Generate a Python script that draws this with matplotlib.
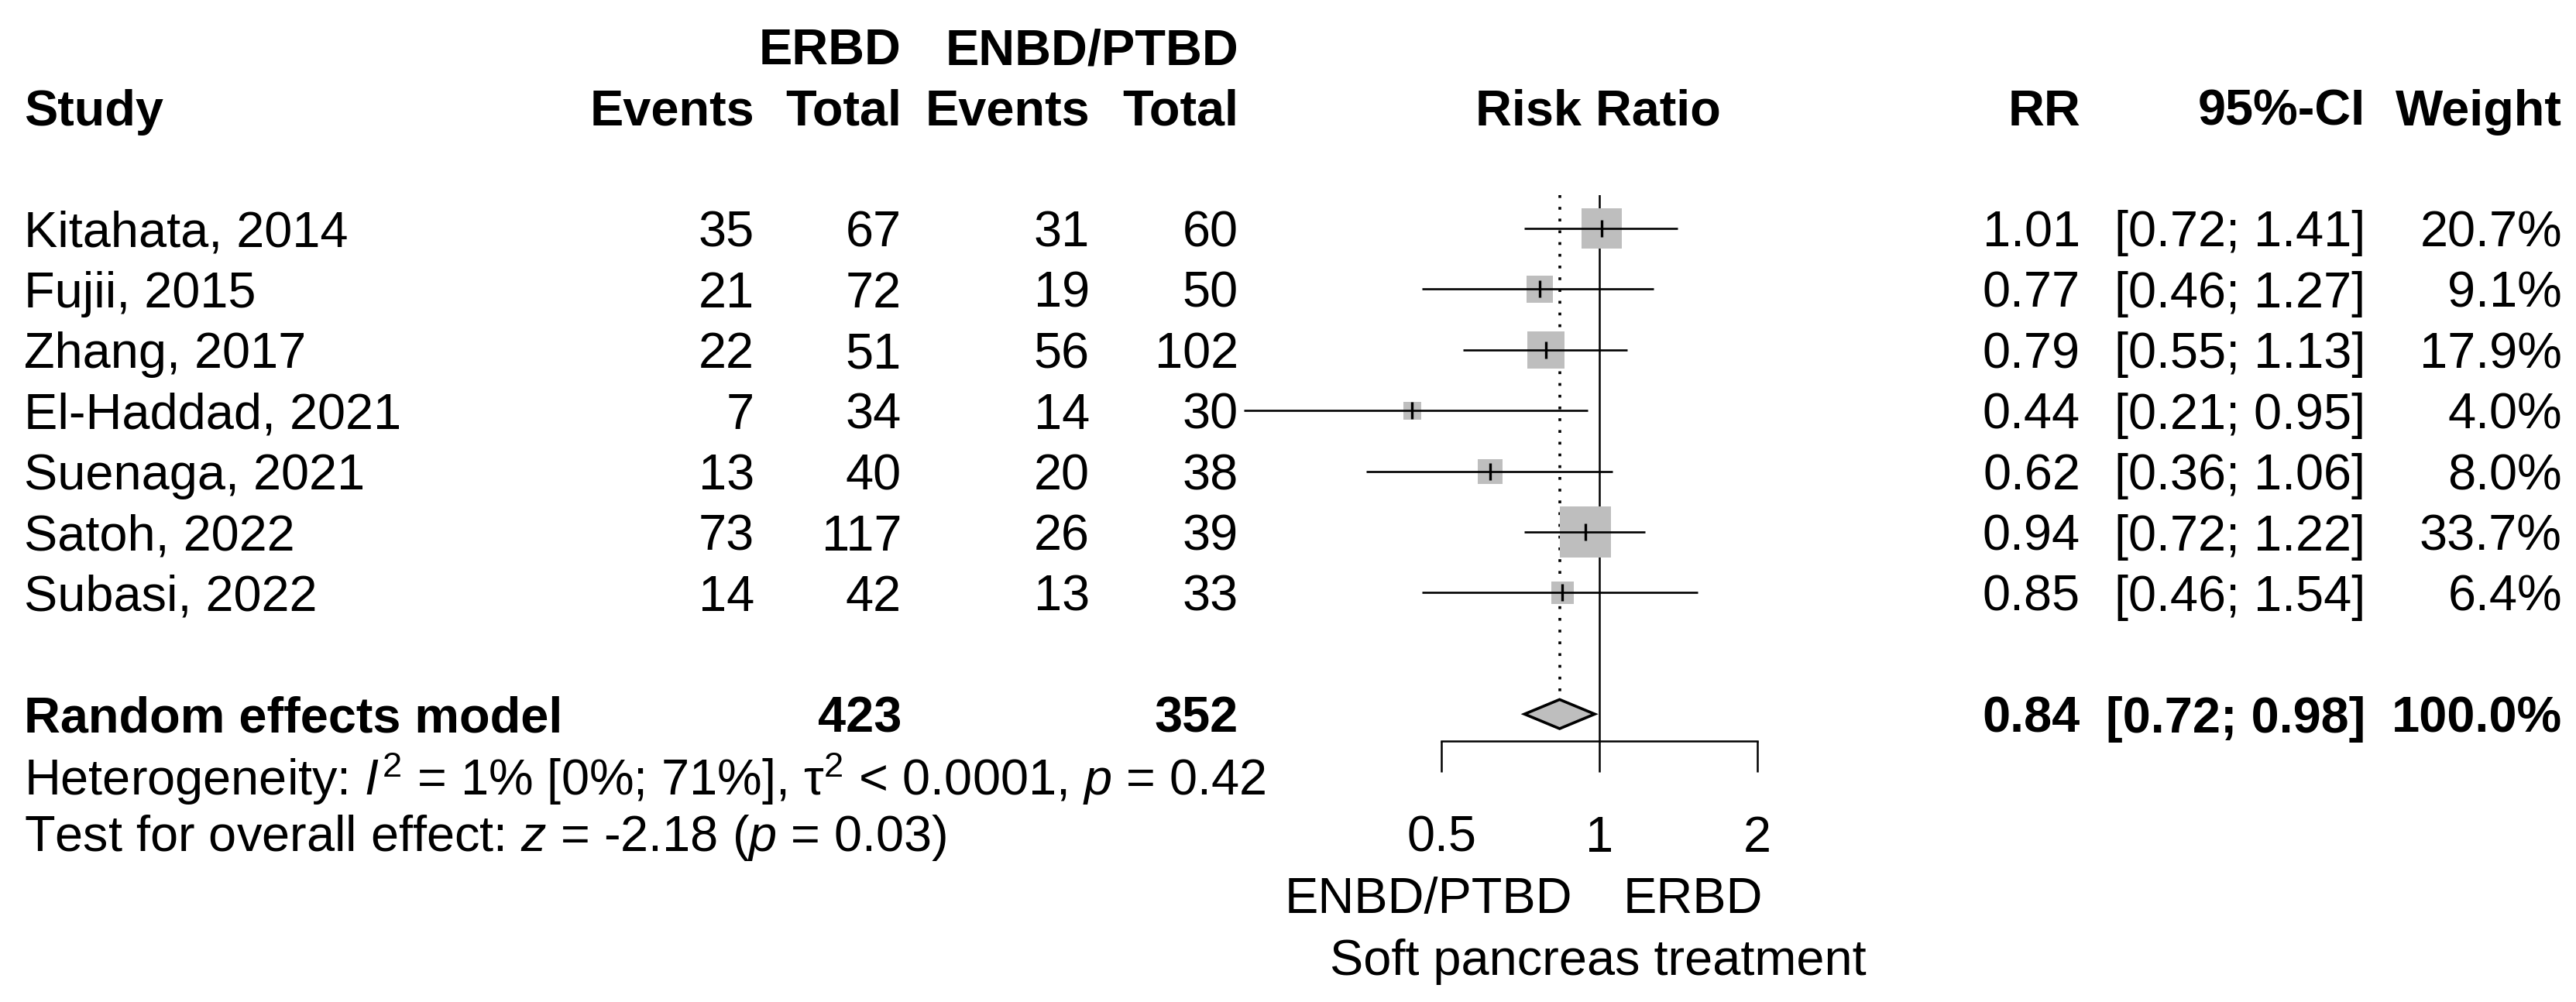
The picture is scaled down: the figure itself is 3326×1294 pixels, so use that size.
import numpy as np
import matplotlib.pyplot as plt
import matplotlib.transforms as mtransforms
from matplotlib.patches import Polygon
from matplotlib.ticker import NullLocator

plt.rcParams['font.family'] = 'Liberation Sans'
plt.rcParams['mathtext.fontset'] = 'custom'
plt.rcParams['mathtext.rm'] = 'Liberation Sans'
plt.rcParams['mathtext.it'] = 'Liberation Sans:italic'
plt.rcParams['mathtext.bf'] = 'Liberation Sans:bold'

# Study level data
studies = ['Kitahata, 2014', 'Fujii, 2015', 'Zhang, 2017', 'El-Haddad, 2021',
           'Suenaga, 2021', 'Satoh, 2022', 'Subasi, 2022']
erbd_events = [35, 21, 22, 7, 13, 73, 14]
erbd_total = [67, 72, 51, 34, 40, 117, 42]
enbd_events = [31, 19, 56, 14, 20, 26, 13]
enbd_total = [60, 50, 102, 30, 38, 39, 33]
rr = [1.01, 0.77, 0.79, 0.44, 0.62, 0.94, 0.85]
ci_lo = [0.72, 0.46, 0.55, 0.21, 0.36, 0.72, 0.46]
ci_hi = [1.41, 1.27, 1.13, 0.95, 1.06, 1.22, 1.54]
weight = [20.7, 9.1, 17.9, 4.0, 8.0, 33.7, 6.4]

# Pooled (random effects) result
pooled_rr = 0.84
pooled_lo = 0.72
pooled_hi = 0.98
pooled_erbd_total = 423
pooled_enbd_total = 352

ticks = [0.5, 1, 2]
tick_labels = ['0.5', '1', '2']

W, H = 3326, 1294
FS = 46.7
fig = plt.figure(figsize=(W / 100, H / 100), dpi=100)

# forest plot axes
ax = fig.add_axes([1500 / W, 1 - 957 / H, 1130 / W, 705 / H])
ax.set_xscale('log', base=2)
ax.set_xlim(2 ** -2.77, 2 ** 2.77)
ax.set_ylim(8.444, -0.548)
for side in ['top', 'left', 'right']:
    ax.spines[side].set_visible(False)
ax.spines['bottom'].set_bounds(0.5, 2)
ax.spines['bottom'].set_linewidth(1.8)
ax.set_xticks(ticks)
ax.set_xticklabels(tick_labels)
ax.xaxis.set_minor_locator(NullLocator())
ax.tick_params(axis='x', direction='out', length=28.8, width=1.8, pad=40, labelsize=FS)
ax.set_yticks([])
ax.patch.set_visible(False)

rows = np.arange(len(studies))
pooled_row = len(studies) + 1
dh = 0.24

# reference lines
ax.axvline(1, color='black', lw=1.8, zorder=1)
ax.vlines(pooled_rr, -0.548, pooled_row - dh, color='black', lw=2.6,
          linestyles=(0, (1, 3.2)), zorder=1)

# squares, CIs and point ticks
sizes = 2256 * np.array(weight) / max(weight)
ax.scatter(rr, rows, s=sizes, marker='s', color='#BEBEBE', linewidths=0, zorder=2)
ax.hlines(rows, ci_lo, ci_hi, color='black', lw=1.9, zorder=3)
ax.scatter(rr, rows, s=230, marker='|', color='black', linewidths=2.4, zorder=4)

# pooled diamond
diamond = Polygon([(pooled_lo, pooled_row), (pooled_rr, pooled_row - dh),
                   (pooled_hi, pooled_row), (pooled_rr, pooled_row + dh)],
                  closed=True, facecolor='#BEBEBE', edgecolor='black', lw=2.6, zorder=3)
ax.add_patch(diamond)

trans = mtransforms.blended_transform_factory(fig.transFigure, ax.transData)


def put(px, row, s, ha='right', bold=False):
    ax.text(px / W, row + 0.30, s, transform=trans, ha=ha, va='baseline',
            fontsize=FS, fontweight='bold' if bold else 'normal', clip_on=False)


# column positions (px)
x_study, x_e1, x_t1, x_e2, x_t2 = 31, 974, 1164, 1407, 1599
x_rr, x_ci, x_w = 2686, 3054, 3308

# headers
put(x_t1, -3, 'ERBD', bold=True)
put(x_t2, -3, 'ENBD/PTBD', bold=True)
put(x_study, -2, 'Study', ha='left', bold=True)
put(x_e1, -2, 'Events', bold=True)
put(x_t1, -2, 'Total', bold=True)
put(x_e2, -2, 'Events', bold=True)
put(x_t2, -2, 'Total', bold=True)
put(2063, -2, 'Risk Ratio', ha='center', bold=True)
put(x_rr, -2, 'RR', bold=True)
put(x_ci, -2, '95%-CI', bold=True)
put(x_w, -2, 'Weight', bold=True)

# study rows
for i in range(len(studies)):
    put(x_study, i, studies[i], ha='left')
    put(x_e1, i, str(erbd_events[i]))
    put(x_t1, i, str(erbd_total[i]))
    put(x_e2, i, str(enbd_events[i]))
    put(x_t2, i, str(enbd_total[i]))
    put(x_rr, i, f'{rr[i]:.2f}')
    put(x_ci, i, f'[{ci_lo[i]:.2f}; {ci_hi[i]:.2f}]')
    put(x_w, i, f'{weight[i]:.1f}%')

# pooled row
put(x_study, pooled_row, 'Random effects model', ha='left', bold=True)
put(x_t1, pooled_row, str(pooled_erbd_total), bold=True)
put(x_t2, pooled_row, str(pooled_enbd_total), bold=True)
put(x_rr, pooled_row, f'{pooled_rr:.2f}', bold=True)
put(x_ci, pooled_row, f'[{pooled_lo:.2f}; {pooled_hi:.2f}]', bold=True)
put(x_w, pooled_row, '100.0%', bold=True)

put(x_study, 9.04, r'Heterogeneity: $I^2$ = 1% [0%; 71%], $\mathrm{\tau}^2$ < 0.0001, $p$ = 0.42', ha='left')
put(x_study, 9.95, r'Test for overall effect: $z$ = -2.18 ($p$ = 0.03)', ha='left')

# bottom labels
put(2030, 10.97, 'ENBD/PTBD', ha='right')
put(2096, 10.97, 'ERBD', ha='left')
put(2063, 11.99, 'Soft pancreas treatment', ha='center')

fig.savefig('out.png', dpi=100, facecolor='white')
